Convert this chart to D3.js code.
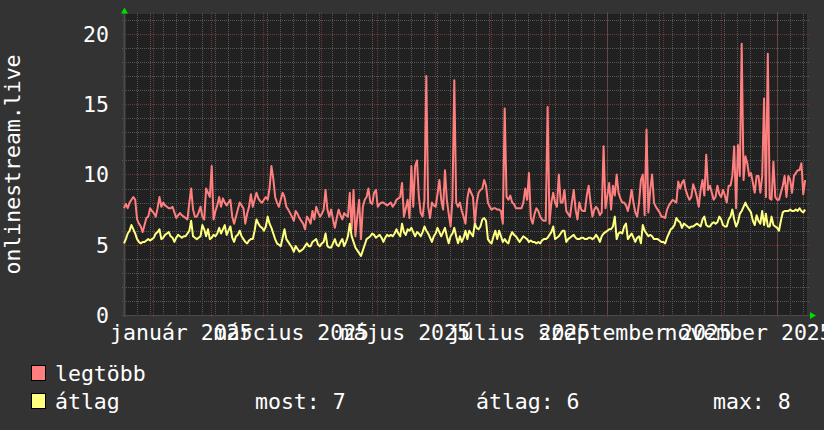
<!DOCTYPE html>
<html><head><meta charset="utf-8">
<script src="https://cdn.jsdelivr.net/npm/d3@7"></script>
<style>
html,body{margin:0;padding:0;background:#333333;overflow:hidden;}
svg{display:block;}
text{font-family:"DejaVu Sans Mono",monospace;fill:#ffffff;}
</style>
</head><body>
<svg id="chart" width="824" height="430"></svg>
<script>
// ---- data ----
const startDate = new Date(2024, 11, 16, 7);
const endDate = new Date(2025, 11, 17, 7);

const legtobb = [
7.6,7.9,7.6,8.0,8.2,8.4,8.2,6.8,6.5,6.3,
5.9,6.4,6.9,7.0,7.6,7.4,7.25,7.0,7.6,8.4,
7.7,8.0,7.8,7.7,7.6,7.6,7.7,7.3,6.9,7.1,
7.25,7.1,7.0,6.9,6.8,8.0,9.0,7.5,7.0,7.0,
7.3,7.7,7.0,6.8,9.0,8.7,8.4,10.6,6.8,7.4,
7.8,8.4,7.7,8.3,8.0,7.8,8.0,8.2,7.0,6.5,
7.0,7.5,8.0,7.8,7.6,6.5,7.2,7.7,8.6,7.7,
8.2,8.7,8.3,8.1,8.0,8.2,8.4,8.2,9.0,10.6,
9.7,8.4,8.0,7.7,8.2,8.7,8.4,7.7,7.5,7.25,
7.0,6.7,7.4,7.2,6.9,6.7,6.5,6.1,7.0,6.8,
6.5,7.4,6.8,7.7,7.3,7.0,7.2,7.5,8.9,7.5,
7.0,7.5,6.8,6.2,6.9,7.5,7.1,6.8,7.25,7.1,
7.0,8.7,6.1,8.9,5.6,7.0,8.2,5.4,7.7,8.2,
8.4,9.0,8.0,7.9,8.7,8.9,7.7,7.9,8.0,8.0,
7.9,7.8,7.9,8.0,7.7,7.9,8.2,8.3,8.4,9.4,
7.0,7.6,8.2,6.9,10.6,7.7,10.6,11.0,8.4,7.25,
7.0,8.2,17.0,7.7,6.9,8.0,7.8,7.7,8.6,9.6,
8.2,7.5,10.3,8.2,7.2,6.3,8.2,16.7,8.0,7.7,
8.0,7.4,7.0,6.5,8.3,9.0,8.7,8.4,6.5,8.0,
8.7,8.9,9.0,9.6,9.2,8.0,7.7,7.5,7.6,7.6,
7.5,7.5,7.4,6.5,14.7,8.4,8.2,8.5,8.0,7.9,
7.6,7.6,7.6,7.6,8.0,9.0,8.2,10.1,6.9,6.5,
7.2,7.6,7.4,7.0,6.8,6.7,6.7,14.8,6.5,8.0,
8.7,8.0,7.7,10.0,8.0,8.0,8.9,7.4,7.2,7.0,
8.0,8.9,7.5,6.8,8.0,7.5,7.4,7.4,8.5,9.2,
8.0,7.0,7.5,7.7,7.5,7.1,7.3,12.0,7.6,8.5,
9.4,7.5,9.2,8.5,10.0,8.7,8.3,8.0,8.0,7.8,
7.4,8.0,8.9,8.0,7.3,7.0,8.0,9.6,10.0,7.1,
13.2,7.3,8.9,10.0,8.0,7.7,7.5,7.3,7.0,7.0,
6.9,7.5,7.8,8.0,8.2,8.1,8.0,9.5,9.0,9.4,
9.6,8.9,8.5,8.2,8.4,9.3,8.9,8.4,7.7,8.9,
9.6,8.5,11.4,8.9,9.2,8.7,8.2,8.4,9.2,8.6,
8.4,8.9,8.5,8.0,9.2,9.2,9.9,12.0,7.6,12.1,
9.9,19.3,9.6,11.3,10.8,9.9,10.1,9.4,8.7,9.9,
9.9,8.7,9.9,15.4,8.4,18.6,8.3,8.2,10.9,8.4,
8.2,8.2,8.7,9.2,9.9,8.4,9.9,9.6,8.7,9.9,
10.1,10.3,10.3,10.8,8.6,9.6
];

const atlag = [
5.1,5.4,5.8,6.0,6.4,6.1,5.8,5.4,5.2,5.1,
5.2,5.2,5.3,5.4,5.3,5.4,5.5,5.8,5.9,6.1,
5.4,5.5,5.7,5.8,5.9,5.6,5.5,5.2,5.5,5.7,
5.6,5.5,5.6,5.6,5.8,6.0,6.7,5.6,5.5,5.4,
5.5,5.6,6.4,6.1,5.6,6.1,5.4,5.5,5.7,5.6,
5.8,6.2,5.8,6.1,6.4,5.7,6.0,6.3,5.5,5.2,
5.6,5.7,6.0,5.6,5.4,5.2,5.1,5.3,5.4,5.4,
6.0,6.8,6.5,6.3,6.2,6.0,6.3,7.0,6.5,6.2,
5.8,5.4,5.1,5.0,4.9,5.5,6.1,5.4,5.2,5.0,
4.8,4.5,4.9,4.7,4.5,4.6,4.7,4.9,5.1,4.9,
4.9,5.2,5.3,5.4,5.0,4.9,5.1,5.2,5.8,4.9,
4.8,4.8,5.1,5.4,5.0,4.9,5.2,5.4,4.9,5.2,
5.6,6.5,5.6,5.2,4.8,4.6,4.4,4.2,4.6,5.0,
5.4,5.5,5.6,5.8,5.7,5.5,5.6,5.7,5.5,5.2,
5.5,5.7,5.6,5.7,5.6,5.8,6.1,5.8,5.6,6.5,
5.9,5.7,6.1,6.0,6.2,5.9,5.6,5.9,5.8,5.6,
5.9,6.3,6.0,5.8,5.5,5.2,5.6,5.8,6.2,5.9,
5.6,5.9,6.2,5.6,5.1,5.6,5.8,6.2,5.6,5.1,
5.6,5.2,5.5,6.0,5.4,6.0,5.8,5.6,6.5,6.2,
6.1,6.3,6.8,6.9,6.7,5.4,5.2,5.1,5.6,6.0,
5.4,6.0,5.6,5.2,5.4,5.2,5.1,5.6,5.9,5.7,
5.6,5.4,5.2,5.4,5.6,5.5,5.4,5.2,5.3,5.2,
5.2,5.1,5.2,5.1,5.3,5.4,5.4,5.5,5.7,5.9,
6.3,5.4,5.5,5.6,5.8,6.0,6.0,5.2,5.4,5.5,
5.6,5.7,5.5,5.4,5.4,5.5,5.5,5.4,5.4,5.5,
5.5,5.4,5.5,5.7,5.5,5.2,5.6,5.8,5.9,6.0,
6.1,6.1,6.3,7.0,5.4,5.8,5.9,5.8,6.3,6.5,
5.4,5.6,5.8,5.5,5.2,5.5,5.6,5.1,6.4,6.0,
5.8,5.6,5.7,5.6,5.4,5.4,5.4,5.3,5.2,5.2,
5.1,5.5,5.8,6.1,6.2,6.4,6.9,6.7,6.6,6.2,
6.5,6.4,6.3,6.2,6.3,6.3,6.4,6.5,6.4,6.3,
6.8,7.0,6.4,6.3,6.3,6.5,6.6,6.5,6.6,7.0,
6.8,6.4,6.3,6.3,6.8,7.0,7.5,6.8,6.3,6.6,
7.2,7.4,7.7,8.0,7.7,7.5,7.3,6.7,6.4,7.1,
6.7,6.5,7.4,6.4,7.2,6.3,6.3,7.0,6.4,6.3,
6.2,6.0,6.7,7.3,7.4,7.4,7.4,7.5,7.4,7.4,
7.5,7.4,7.6,7.4,7.3,7.5
];

const yTicks = [0, 5, 10, 15, 20];
const yMax = 21.42;
const labelMonths = [0, 2, 4, 6, 8, 10];
const monthLabels = ["január 2025", "március 2025", "május 2025", "július 2025", "szeptember 2025", "november 2025"];
const yTitle = "onlinestream.live";
const seriesNames = ["legtöbb", "átlag"];
const seriesColors = ["#ff7f7f", "#ffff80"];
const statNames = ["most", "átlag", "max"];
const statValues = [7, 6, 8];

// ---- layout ----
const FS = 21.5;
const svg = d3.select("#chart");
const L = 124, R = 807, T = 14, B = 315;

svg.append("rect").attr("x", 0).attr("y", 0).attr("width", 824).attr("height", 430).attr("fill", "#333333");
svg.append("rect").attr("x", L).attr("y", T).attr("width", R - L).attr("height", B - T).attr("fill", "#212121");

const x = d3.scaleTime().domain([startDate, endDate]).range([L, R]);
const y = d3.scaleLinear().domain([0, yMax]).range([B, T]);

const minorColor = "#575757";
const majorColor = "#783434";

// horizontal minor grid
const hMinor = d3.range(1, Math.floor(yMax) + 1).filter(v => v % 5 !== 0);
svg.append("g").selectAll("line").data(hMinor).join("line")
  .attr("x1", L - 2).attr("x2", R + 2)
  .attr("y1", d => Math.round(y(d)) + 0.5).attr("y2", d => Math.round(y(d)) + 0.5)
  .attr("stroke", minorColor).attr("stroke-width", 1).attr("stroke-dasharray", "1,1");

// vertical minor grid (weeks)
const weeks = d3.timeMonday.range(startDate, endDate);
svg.append("g").selectAll("line").data(weeks).join("line")
  .attr("x1", d => Math.round(x(d)) + 0.5).attr("x2", d => Math.round(x(d)) + 0.5)
  .attr("y1", T - 1).attr("y2", B + 2)
  .attr("stroke", minorColor).attr("stroke-width", 1).attr("stroke-dasharray", "1,1");

// major horizontal grid
svg.append("g").selectAll("line").data(yTicks.filter(v => v > 0)).join("line")
  .attr("x1", L - 2).attr("x2", R + 2)
  .attr("y1", d => Math.round(y(d)) + 0.5).attr("y2", d => Math.round(y(d)) + 0.5)
  .attr("stroke", majorColor).attr("stroke-width", 1).attr("stroke-dasharray", "1,1");

// major vertical grid (months)
const months = d3.timeMonth.range(startDate, endDate);
svg.append("g").selectAll("line").data(months).join("line")
  .attr("x1", d => Math.round(x(d)) + 0.5).attr("x2", d => Math.round(x(d)) + 0.5)
  .attr("y1", T - 2).attr("y2", B + 3)
  .attr("stroke", majorColor).attr("stroke-width", 1).attr("stroke-dasharray", "1,1");

// axes lines
svg.append("line").attr("x1", L - 2).attr("x2", R + 3).attr("y1", B + 0.5).attr("y2", B + 0.5)
  .attr("stroke", "#4a4a4a").attr("stroke-width", 1);
svg.append("line").attr("x1", L + 0.5).attr("x2", L + 0.5).attr("y1", T - 1).attr("y2", B + 2)
  .attr("stroke", "#4a4a4a").attr("stroke-width", 2);

// arrows
svg.append("path").attr("d", `M${L - 3},${T - 0.5} L${L + 4},${T - 0.5} L${L + 0.5},${T - 6.5} Z`).attr("fill", "#00dd00");
svg.append("path").attr("d", `M${R + 3},${B - 3} L${R + 3},${B + 4} L${R + 9},${B + 0.5} Z`).attr("fill", "#00dd00");

// series
const days = legtobb.map((_, i) => d3.timeDay.offset(startDate, i));
const line = d3.line().x((d, i) => x(days[i])).y(d => y(d));
[legtobb, atlag].forEach((s, k) => {
  svg.append("path").datum(s).attr("d", line)
    .attr("fill", "none").attr("stroke", seriesColors[k]).attr("stroke-width", 2)
    .attr("stroke-linejoin", "round");
});

// y tick labels
svg.append("g").selectAll("text").data(yTicks).join("text")
  .attr("x", 109).attr("y", d => y(d) + 8)
  .attr("text-anchor", "end").attr("font-size", FS)
  .text(d => d);

// x labels
svg.append("g").selectAll("text").data(labelMonths).join("text")
  .attr("x", (m) => x(new Date(2025, m, 16)))
  .attr("y", 340).attr("text-anchor", "middle").attr("font-size", FS)
  .text((m, i) => monthLabels[i]);

// y title
svg.append("text").attr("transform", `translate(20,${(T + B) / 2}) rotate(-90)`)
  .attr("text-anchor", "middle").attr("font-size", FS).text(yTitle);

// legend
const legY = [365, 393];
seriesNames.forEach((n, k) => {
  svg.append("rect").attr("x", 31.5).attr("y", legY[k] + 0.5).attr("width", 14).attr("height", 15)
    .attr("fill", seriesColors[k]).attr("stroke", "#000").attr("stroke-width", 1);
  svg.append("text").attr("x", 55).attr("y", legY[k] + 16).attr("font-size", FS).text(n);
});
const statX = [255, 476, 713];
statNames.forEach((n, k) => {
  svg.append("text").attr("x", statX[k]).attr("y", 409).attr("font-size", FS)
    .text(`${n}: ${statValues[k]}`);
});
</script>
</body></html>
